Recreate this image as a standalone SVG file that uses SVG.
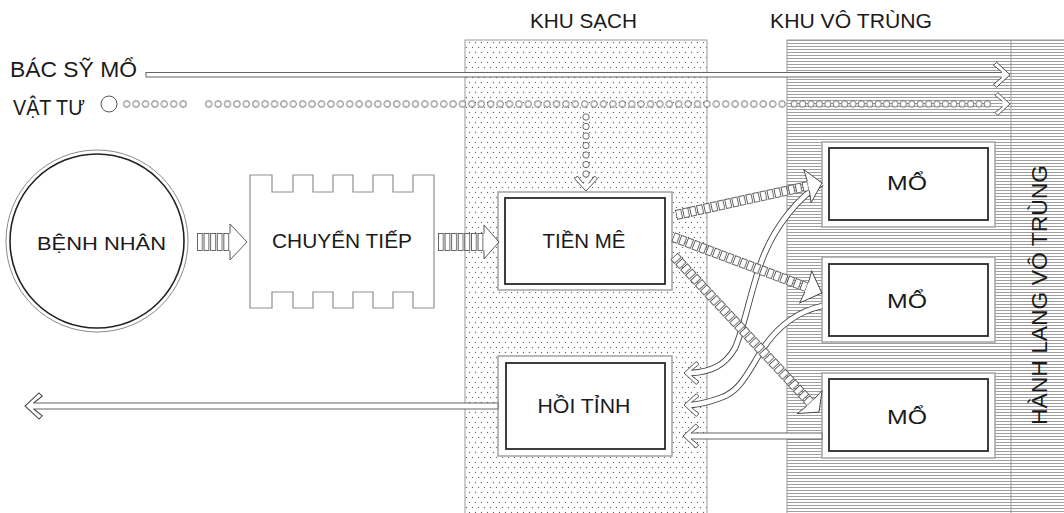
<svg xmlns="http://www.w3.org/2000/svg" width="1064" height="513" viewBox="0 0 1064 513">
<style>
.txt{font-family:"Liberation Sans",Arial,sans-serif;fill:#1a1a1a}
.outer{fill:#fff;stroke:#a8a8a8;stroke-width:1.6}
.inner{fill:#fff;stroke:#2a2a2a;stroke-width:1.8}
.shaft{fill:#fff;stroke:#555;stroke-width:0.9}
.head{fill:#fff;stroke:#444;stroke-width:0.9}
.dblo{fill:none;stroke:#444;stroke-width:6.4}
.dbli{fill:none;stroke:#fff;stroke-width:4.6}
.zone{stroke:#9a9a9a;stroke-width:1}
.ring{fill:#fff;stroke:#444;stroke-width:0.8}
</style>
<defs>
<pattern id="dots" patternUnits="userSpaceOnUse" width="6" height="10">
<rect width="6" height="10" fill="#fff"/>
<path d="M0.9,2.5h1.2M1.5,1.9v1.2M3.9,7.5h1.2M4.5,6.9v1.2" stroke="#555" stroke-width="0.7"/>
</pattern>
<pattern id="hatch" patternUnits="userSpaceOnUse" width="8" height="3">
<rect width="8" height="3" fill="#fff"/>
<line x1="0" y1="1.5" x2="8" y2="1.5" stroke="#949494" stroke-width="0.9"/>
</pattern>
<pattern id="ringsA" patternUnits="userSpaceOnUse" x="0" y="-4.5" width="9.4" height="9">
<circle cx="4.7" cy="4.5" r="3.2" class="ring"/>
</pattern>
<pattern id="ringsB" patternUnits="userSpaceOnUse" x="0" y="-4.5" width="8.4" height="9">
<circle cx="4.2" cy="4.5" r="3.2" class="ring"/>
</pattern>
<pattern id="dashD" patternUnits="userSpaceOnUse" x="0" y="-5" width="7.2" height="10">
<rect x="0.4" y="0.5" width="5.3" height="9" fill="#fff" stroke="#444" stroke-width="0.8"/>
</pattern>
<pattern id="dashH" patternUnits="userSpaceOnUse" x="0" y="-9" width="6.6" height="18">
<rect x="0.4" y="0.5" width="5" height="17" fill="#fff" stroke="#444" stroke-width="0.8"/>
</pattern>
<path id="chev" d="M7.5,-2.6 L15,-8.6 L12.2,-11.4 L0,0 L12.2,11.4 L15,8.6 L7.5,2.6" class="head"/>
<path id="c1" d="M822,183 C800,196 775,225 762,260 C750,292 745,325 735,348 C725,366 710,372 691,373"/>
<path id="c2" d="M822,306 C795,312 775,330 762,350 C748,372 740,392 720,398 C712,401 703,404 691,405"/>
</defs>

<g id="zones">
<rect x="465" y="40" width="242" height="480" fill="url(#dots)" class="zone"/>
<rect x="787" y="40" width="290" height="480" fill="url(#hatch)" class="zone"/>
<line x1="1011" y1="40" x2="1011" y2="513" class="zone"/>
</g>

<g id="labels">
<text class="txt" x="530" y="28" font-size="21" textLength="107" lengthAdjust="spacingAndGlyphs">KHU SẠCH</text>
<text class="txt" x="770" y="28" font-size="21" textLength="162" lengthAdjust="spacingAndGlyphs">KHU VÔ TRÙNG</text>
<text class="txt" x="10" y="77" font-size="21.5" textLength="127" lengthAdjust="spacingAndGlyphs">BÁC SỸ MỔ</text>
<text class="txt" x="13" y="115" font-size="21.5" textLength="72" lengthAdjust="spacingAndGlyphs">VẬT TƯ</text>
<text class="txt" transform="translate(1047,295) rotate(-90)" text-anchor="middle" font-size="22" textLength="260" lengthAdjust="spacingAndGlyphs">HÀNH LANG VÔ TRÙNG</text>
</g>

<g id="benh-nhan">
<circle cx="97" cy="241" r="91" fill="#fff" stroke="#8a8a8a" stroke-width="1"/>
<circle cx="97" cy="241" r="87" fill="#fff" stroke="#222" stroke-width="1.6"/>
<text class="txt" x="101.5" y="250" text-anchor="middle" font-size="19" textLength="129" lengthAdjust="spacingAndGlyphs">BỆNH NHÂN</text>
</g>

<g id="chuyen-tiep">
<path d="M250,175 H272 V192 H293 V175 H313 V192 H333 V175 H353 V192 H373 V175 H393 V192 H413 V175 H434 V308 H413 V292 H393 V308 H373 V292 H353 V308 H333 V292 H313 V308 H293 V292 H272 V308 H250 Z" fill="#fff" stroke="#8f8f8f" stroke-width="1.2"/>
<text class="txt" x="342" y="248" text-anchor="middle" font-size="19.5" textLength="140" lengthAdjust="spacingAndGlyphs">CHUYỂN TIẾP</text>
</g>

<g id="tien-me">
<rect x="498" y="192" width="174" height="98" class="outer"/>
<rect x="505" y="198" width="160" height="86" class="inner"/>
<text class="txt" x="584" y="248" text-anchor="middle" font-size="21" textLength="83" lengthAdjust="spacingAndGlyphs">TIỀN MÊ</text>
</g>

<g id="hoi-tinh">
<rect x="498" y="356" width="174" height="100" class="outer"/>
<rect x="506" y="363" width="159" height="86" class="inner"/>
<text class="txt" x="584" y="413" text-anchor="middle" font-size="21" textLength="93" lengthAdjust="spacingAndGlyphs">HỒI TỈNH</text>
</g>

<g id="mo-1">
<rect x="822" y="142" width="173" height="85" class="outer"/>
<rect x="829" y="148" width="159" height="72" class="inner"/>
<text class="txt" x="907" y="190" text-anchor="middle" font-size="21" textLength="40" lengthAdjust="spacingAndGlyphs">MỔ</text>
</g>
<g id="mo-2">
<rect x="822" y="257" width="173" height="85" class="outer"/>
<rect x="829" y="264" width="159" height="72" class="inner"/>
<text class="txt" x="907" y="308" text-anchor="middle" font-size="21" textLength="40" lengthAdjust="spacingAndGlyphs">MỔ</text>
</g>
<g id="mo-3">
<rect x="822" y="373" width="173" height="85" class="outer"/>
<rect x="829" y="379" width="159" height="72" class="inner"/>
<text class="txt" x="907" y="424" text-anchor="middle" font-size="21" textLength="40" lengthAdjust="spacingAndGlyphs">MỔ</text>
</g>

<g id="connectors">
<rect x="146" y="72.5" width="859" height="4.5" class="shaft"/>
<use href="#chev" transform="translate(1010,74.75) rotate(180) scale(1.1)"/>
<circle cx="109" cy="104" r="8" fill="#fff" stroke="#444" stroke-width="0.9"/>
<g transform="translate(122,104)"><rect x="0" y="-4.5" width="65.8" height="9" fill="url(#ringsA)"/></g>
<g transform="translate(204,104)"><rect x="0" y="-4.5" width="582.8" height="9" fill="url(#ringsA)"/></g>
<g transform="translate(790,104)"><rect x="0" y="-4.5" width="201.6" height="9" fill="url(#ringsB)"/></g>
<use href="#chev" transform="translate(1010,104) rotate(180)"/>
<g class="ring">
<circle cx="586" cy="117" r="3.2"/><circle cx="586" cy="126.5" r="3.2"/><circle cx="586" cy="136" r="3.2"/><circle cx="586" cy="145.5" r="3.2"/><circle cx="586" cy="155" r="3.2"/><circle cx="586" cy="164.5" r="3.2"/><circle cx="586" cy="174" r="3.2"/>
</g>
<use href="#chev" transform="translate(586,191) rotate(-90)"/>
<g transform="translate(197,242)">
<rect x="0" y="-9" width="33" height="18" fill="url(#dashH)"/>
<path d="M33,-8.5 L33,-18 L50,0 L33,18 L33,8.5" class="head"/>
</g>
<g transform="translate(438,242)">
<rect x="0" y="-9" width="46.2" height="18" fill="url(#dashH)"/>
<path d="M46,-8.5 L46,-17 L61,0 L46,17 L46,8.5" class="head"/>
</g>
<use href="#c1" class="dblo"/><use href="#c1" class="dbli"/>
<use href="#chev" transform="translate(684,373)"/>
<use href="#c2" class="dblo"/><use href="#c2" class="dbli"/>
<use href="#chev" transform="translate(684,405)"/>
<rect x="688" y="433" width="134" height="6" class="shaft"/>
<use href="#chev" transform="translate(683,436) scale(1.05)"/>
<g transform="translate(676,215) rotate(-12.37)">
<rect x="0" y="-5" width="136.8" height="10" fill="url(#dashD)"/>
<path d="M135.5,-5 L134.5,-17 L149.5,0 L134.5,17 L135.5,5" class="head"/>
</g>
<g transform="translate(673,237) rotate(20.6)">
<rect x="0" y="-5" width="144" height="10" fill="url(#dashD)"/>
<path d="M142.8,-5 L141.8,-17 L159,0 L141.8,17 L142.8,5" class="head"/>
</g>
<g transform="translate(674,256) rotate(47.1)">
<rect x="0" y="-5" width="201.6" height="10" fill="url(#dashD)"/>
<path d="M200.3,-5 L199.3,-17 L213,0 L199.3,17 L200.3,5" class="head"/>
</g>
<rect x="30" y="403" width="468" height="6" class="shaft"/>
<use href="#chev" transform="translate(25,406) scale(1.15)"/>
</g>
</svg>
